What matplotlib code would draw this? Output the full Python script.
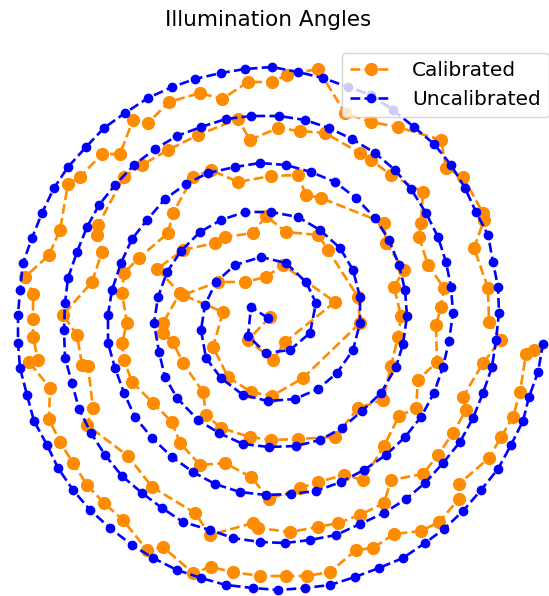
import numpy as np
import matplotlib
matplotlib.use("Agg")
import matplotlib.pyplot as plt

# uncalibrated illumination angles, spiral order from the centre out
uncal_x = [0, -17, -20, -2, 22, 42, 48, 38, 18, -7, -33, -52, -63, -67, -62, -47, -25, 0, 27, 50, 69, 85, 92, 92, 85, 72, 52, 30, 3, -23, -47, -68,
           -87, -101, -110, -114, -109, -103, -91, -70, -49, -25, 1, 28, 52, 74, 94, 113, 128, 135, 139, 137, 131, 121, 107, 88, 67, 43, 18, -8, -33, -60,
           -82, -103, -121, -136, -147, -156, -160, -160, -153, -144, -133, -116, -96, -75, -53, -28, -2, 23, 48, 73, 96, 118, 137, 153, 166, 175, 181, 185,
           183, 178, 170, 158, 143, 127, 107, 84, 61, 37, 11, -17, -42, -67, -91, -113, -134, -153, -169, -181, -191, -200, -203, -204, -203, -196, -189,
           -177, -163, -146, -126, -106, -85, -58, -35, -8, 17, 42, 68, 92, 116, 138, 157, 175, 192, 205, 215, 224, 228, 231, 230, 225, 220, 208, 197, 183,
           166, 146, 125, 103, 80, 55, 30, 4, -23, -47, -73, -96, -120, -143, -164, -182, -200, -214, -226, -236, -245, -248, -250, -250, -248, -241, -234,
           -221, -210, -195, -178, -158, -136, -115, -91, -67, -42, -15, 10, 37, 62, 87, 111, 135, 157, 176, 195, 213, 230, 243, 255, 261, 270, 275]
uncal_y = [0, 11, -18, -35, -32, -15, 15, 36, 55, 61, 53, 36, 13, -12, -40, -60, -77, -83, -81, -71, -55, -32, -5, 21, 48, 70, 88, 101, 106, 106, 98, 86,
           67, 46, 21, -5, -34, -59, -80, -102, -115, -126, -129, -128, -122, -110, -93, -75, -49, -26, 2, 28, 53, 78, 100, 120, 136, 146, 153, 155, 151, 145,
           134, 119, 98, 79, 55, 28, 3, -25, -50, -75, -99, -120, -139, -154, -166, -174, -177, -176, -173, -164, -152, -137, -119, -99, -75, -49, -23, 5,
           31, 56, 81, 105, 129, 148, 165, 179, 190, 198, 202, 202, 199, 191, 182, 169, 153, 133, 113, 91, 66, 40, 15, -12, -40, -65, -91,
           -115, -137, -158, -175, -190, -204, -212, -220, -224, -225, -222, -217, -206, -195, -181, -165, -145, -124, -100, -75, -49, -22, 5, 31, 56, 83, 106, 130, 153,
           174, 191, 208, 223, 231, 240, 246, 251, 249, 245, 239, 231, 220, 205, 190, 171, 151, 130, 105, 80, 55, 28, 3, -25, -50, -77, -103,
           -127, -150, -172, -192, -210, -227, -240, -252, -260, -267, -270, -272, -270, -267, -259, -250, -240, -225, -211, -193, -172, -151, -127, -103, -79, -54, -26]

cal_pts = [(-99,216),(-135,198),(-120,195),(-166,164),(-148,164),(-188,141),(-200,134),(-100,168),(-126,153),(-144,141),
           (-68,225),(-46,219),(-20,236),(4,236),(19,243),(50,249),(77,205),(-70,183),(-30,199),(-18,178),(10,190),(32,187),(57,185),(92,165),
           (-57,148),(-30,136),(3,142),(30,143),(-75,141),
           (103,196),(130,191),(173,178),(178,150),(195,141),(123,143),(103,158),
           (-208,88),(-219,63),(-243,41),(-235,24),(-235,-1),(-170,93),(-171,83),(-166,66),(-176,36),(-205,3),(-95,105),(-100,85),(-129,60),
           (-144,45),(-111,49),(-146,25),(-141,-5),(-105,-5),(-88,25),
           (38,123),(53,120),(-53,75),(-43,81),(-15,85),(-2,102),(18,86),(50,83),(60,68),(-85,68),(90,21),(-50,36),(-23,36),(-2,41),(15,53),
           (67,16),(-45,6),(-85,23),(2,1),(92,-5),
           (116,95),(118,75),(136,48),(126,31),(133,2),(153,95),(151,81),(160,53),(176,30),(173,11),(168,-7),(216,98),(215,105),(206,70),
           (220,30),(221,-4),(155,126),
           (-239,-44),(-230,-42),(-218,-70),(-219,-101),(-208,-124),(-195,-145),(-235,-19),(-191,-17),(-186,-47),(-180,-48),(-175,-90),
           (-181,-107),(-140,-138),(-146,-25),(-144,-42),(-136,-64),(-115,-85),(-96,-104),(-88,-125),(-95,-24),(-105,-15),
           (-20,-22),(5,-42),(17,-24),(-55,-29),(-40,-59),(-17,-74),(4,-78),(35,-60),(-65,-74),(-62,-97),(-47,-110),(-18,-119),(3,-122),
           (30,-121),(67,-119),(90,-90),(-85,-45),(-68,-147),(-43,-145),
           (130,-19),(123,-48),(115,-82),(169,-44),(150,-62),(148,-90),(131,-98),(116,-128),(170,-137),(233,-22),(215,-45),(195,-79),
           (198,-92),(185,-115),(221,-140),(258,-36),(266,-32),(252,-74),(245,-99),(233,-119),
           (-181,-167),(-164,-185),(-145,-202),(-121,-232),(-105,-229),(-116,-169),
           (-17,-159),(1,-181),(32,-170),(50,-164),(76,-157),(95,-162),(-73,-195),(-58,-217),(-15,-205),(-10,-210),(22,-214),(50,-209),
           (70,-205),(92,-197),(-75,-255),(-57,-249),(-35,-254),(-8,-258),(18,-258),(39,-258),(62,-254),(88,-232),
           (123,-162),(155,-156),(116,-185),(191,-166),(191,-181),(171,-204),(153,-213),(126,-216),(105,-230)]

# put the measured calibrated points in order along the spiral
pts = np.array(cal_pts, float)
r = np.hypot(pts[:, 0], pts[:, 1])
th = np.mod(np.arctan2(pts[:, 1], pts[:, 0]), 2 * np.pi)
a = 45 / (2 * np.pi)
n = np.round((r - a * th) / 45)
order = np.argsort(th + 2 * np.pi * n)
cal_x = pts[order, 0]
cal_y = pts[order, 1]

fig = plt.figure(figsize=(5.49, 5.96), dpi=100)
ax = fig.add_axes([0, 0, 1, 1])
ax.plot(cal_x, cal_y, "--o", color="darkorange", ms=8.5, lw=1.9, label="Calibrated")
ax.plot(uncal_x, uncal_y, "--o", color="blue", ms=6, lw=1.9, label="Uncalibrated")
ax.set_xlim(-268, 281)
ax.set_ylim(-278, 318)
ax.axis("off")
fig.text(0.488, 1 - 20 / 596, "Illumination Angles", ha="center", va="center", fontsize=15.5)
ax.legend(loc="upper right", bbox_to_anchor=(1.0, 1 - 53 / 596), borderaxespad=0, fontsize=14.5,
          handlelength=2.1, handletextpad=1.0)
fig.savefig("out.png", dpi=100)
